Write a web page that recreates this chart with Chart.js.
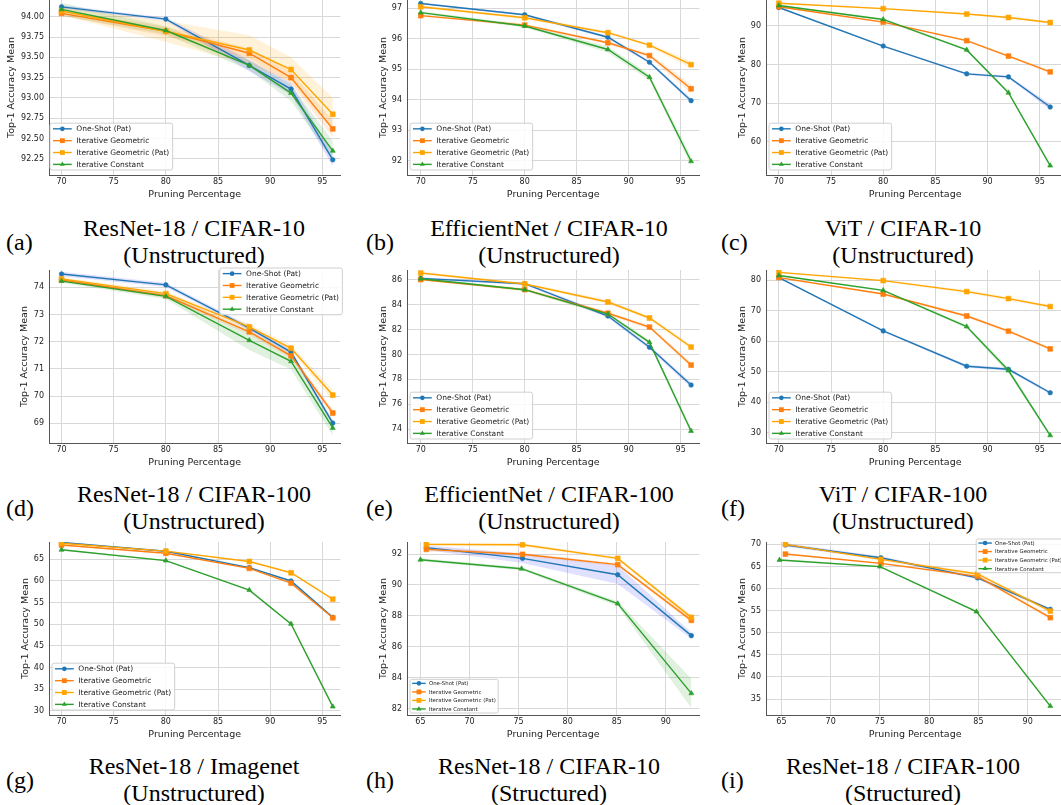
<!DOCTYPE html>
<html><head><meta charset="utf-8">
<script src="https://cdn.jsdelivr.net/npm/chart.js@4"></script>
<style>
html,body{margin:0;padding:0;background:#fff;overflow:hidden;}
#page{position:relative;width:1061px;height:805px;overflow:hidden;background:#fff;}
canvas{position:absolute;}
.cap{position:absolute;font-family:"Liberation Serif","Times New Roman",serif;font-size:24px;line-height:24px;white-space:nowrap;color:#000;transform:translateX(-50%);}
.lab{position:absolute;font-family:"Liberation Serif","Times New Roman",serif;font-size:24px;line-height:24px;white-space:nowrap;color:#000;}
</style></head><body><div id="page"></div>
<script>
// ---------------- DATA ----------------
const seriesLabels = ["One-Shot (Pat)", "Iterative Geometric", "Iterative Geometric (Pat)", "Iterative Constant"];
const xTicksUnstructured = [70, 75, 80, 85, 90, 95];
const xTicksStructured = [65, 70, 75, 80, 85, 90];
const xUnstructured = [70, 80, 88, 92, 96];
const xStructH = [65.6, 75.4, 85.1, 92.6];
const xStructHConst = [65.0, 75.3, 85.1, 92.6];
const xStructI = [65.4, 75.1, 84.9, 92.3];
const xStructIConst = [64.8, 75.0, 84.8, 92.3];

// (a) ResNet-18 / CIFAR-10 (Unstructured)
const meanA = [[94.12, 93.97, 93.40, 93.11, 92.24], [94.04, 93.82, 93.55, 93.25, 92.62], [94.07, 93.82, 93.59, 93.35, 92.80], [94.09, 93.83, 93.40, 93.06, 92.35]];
const stdA  = [[0.02, 0.02, 0.07, 0.07, 0.08], [0.03, 0.06, 0.06, 0.08, 0.10], [0.05, 0.13, 0.18, 0.15, 0.20], [0.08, 0.05, 0.06, 0.10, 0.12]];
const yTicksA = [92.25, 92.5, 92.75, 93.0, 93.25, 93.5, 93.75, 94.0];
// (b) EfficientNet / CIFAR-10
const meanB = [[97.16, 96.79, 96.05, 95.23, 93.97], [96.76, 96.45, 95.87, 95.45, 94.36], [97.05, 96.69, 96.20, 95.79, 95.15], [96.86, 96.42, 95.65, 94.74, 91.98]];
const stdB  = [[0.03, 0.03, 0.05, 0.05, 0.07], [0.03, 0.05, 0.05, 0.07, 0.15], [0.05, 0.05, 0.05, 0.05, 0.12], [0.05, 0.05, 0.10, 0.10, 0.15]];
const yTicksB = [92, 93, 94, 95, 96, 97];
// (c) ViT / CIFAR-10
const meanC = [[94.8, 84.8, 77.6, 76.8, 69.0], [95.0, 91.0, 86.2, 82.2, 78.1], [95.9, 94.5, 93.1, 92.2, 90.9], [95.3, 91.7, 83.8, 72.7, 53.8]];
const stdC  = [[0.2, 0.2, 0.3, 0.3, 0.8], [0.2, 0.2, 0.3, 0.3, 0.4], [0.2, 0.2, 0.2, 0.3, 0.3], [0.3, 0.3, 0.3, 0.3, 0.4]];
const yTicksC = [60, 70, 80, 90];
// (d) ResNet-18 / CIFAR-100
const meanD = [[74.49, 74.09, 72.50, 71.62, 69.01], [74.27, 73.69, 72.36, 71.48, 69.38], [74.31, 73.77, 72.55, 71.76, 70.04], [74.23, 73.67, 72.05, 71.28, 68.83]];
const stdD  = [[0.08, 0.08, 0.08, 0.08, 0.10], [0.06, 0.08, 0.10, 0.10, 0.15], [0.06, 0.08, 0.10, 0.12, 0.20], [0.06, 0.10, 0.35, 0.30, 0.28]];
const yTicksD = [69, 70, 71, 72, 73, 74];
// (e) EfficientNet / CIFAR-100
const meanE = [[86.13, 85.70, 83.10, 80.58, 77.54], [86.03, 85.22, 83.32, 82.21, 79.15], [86.56, 85.68, 84.23, 82.94, 80.60], [86.10, 85.22, 83.26, 80.98, 73.84]];
const stdE  = [[0.10, 0.10, 0.15, 0.15, 0.20], [0.10, 0.10, 0.15, 0.15, 0.20], [0.10, 0.10, 0.15, 0.15, 0.20], [0.10, 0.10, 0.15, 0.15, 0.25]];
const yTicksE = [74, 76, 78, 80, 82, 84, 86];
// (f) ViT / CIFAR-100
const meanF = [[80.9, 63.4, 51.8, 50.8, 43.1], [80.9, 75.5, 68.3, 63.3, 57.5], [82.6, 79.9, 76.3, 74.0, 71.4], [81.6, 76.7, 64.8, 50.4, 29.1]];
const stdF  = [[0.3, 0.3, 0.5, 0.5, 0.5], [0.3, 0.3, 0.5, 0.5, 0.5], [0.3, 0.3, 0.5, 0.5, 0.5], [0.3, 0.3, 0.5, 1.0, 0.5]];
const yTicksF = [30, 40, 50, 60, 70, 80];
// (g) ResNet-18 / Imagenet
const meanG = [[68.9, 66.85, 63.1, 60.0, 51.6], [68.3, 66.4, 62.9, 59.5, 51.5], [68.7, 66.9, 64.5, 61.9, 55.8], [67.2, 64.7, 57.9, 50.1, 31.0]];
const stdG  = [[0.15, 0.15, 0.15, 0.15, 0.15], [0.15, 0.15, 0.15, 0.15, 0.15], [0.15, 0.15, 0.15, 0.15, 0.15], [0.15, 0.15, 0.15, 0.15, 0.15]];
const yTicksG = [30, 35, 40, 45, 50, 55, 60, 65];
// (h) ResNet-18 / CIFAR-10 (Structured)
const meanH = [[92.41, 91.72, 90.66, 86.72], [92.30, 91.98, 91.31, 87.71], [92.62, 92.60, 91.72, 87.90], [91.63, 91.05, 88.79, 82.99]];
const stdH  = [[0.15, 0.30, 0.60, 0.20], [0.12, 0.10, 0.10, 0.15], [0.10, 0.10, 0.10, 0.15], [0.10, 0.10, 0.15, 0.95]];
const yTicksH = [82, 84, 86, 88, 90, 92];
// (i) ResNet-18 / CIFAR-100 (Structured)
const meanI = [[69.85, 66.98, 62.4, 55.3], [67.8, 65.7, 62.76, 53.4], [70.0, 66.6, 63.3, 54.9], [66.46, 64.95, 54.77, 33.4]];
const stdI  = [[0.4, 0.3, 0.3, 0.3], [0.2, 0.2, 0.3, 0.4], [0.3, 0.3, 0.4, 0.5], [0.2, 0.2, 0.2, 0.3]];
const yTicksI = [35, 40, 45, 50, 55, 60, 65, 70];

const captionLetters = ["(a)", "(b)", "(c)", "(d)", "(e)", "(f)", "(g)", "(h)", "(i)"];
const captionTitles = ["ResNet-18 / CIFAR-10", "EfficientNet / CIFAR-10", "ViT / CIFAR-10", "ResNet-18 / CIFAR-100", "EfficientNet / CIFAR-100", "ViT / CIFAR-100", "ResNet-18 / Imagenet", "ResNet-18 / CIFAR-10", "ResNet-18 / CIFAR-100"];
const captionSubs = ["(Unstructured)", "(Unstructured)", "(Unstructured)", "(Unstructured)", "(Unstructured)", "(Unstructured)", "(Unstructured)", "(Structured)", "(Structured)"];

// ---------------- STYLE ----------------
const colors = ["#1f77b4", "#ff7f0e", "#ffa500", "#2ca02c"];
const bandColors = ["rgba(0,0,255,0.12)", "rgba(255,127,14,0.15)", "rgba(255,165,0,0.15)", "rgba(44,160,44,0.15)"];
const pStyles = ["circle", "rect", "rect", "triangle"];
const pRadii = [2.3, 3.4, 3.4, 2.9];
Chart.defaults.font.family = '"DejaVu Sans", sans-serif';

const mplLegend = {
  id: 'mplLegend',
  afterDraw(chart, args, o) {
    if (!o || !o.fs) return;
    const ctx = chart.ctx, ca = chart.chartArea, fs = o.fs;
    const items = chart.data.datasets.filter(d => d.isMain);
    ctx.save();
    ctx.font = fs + 'px "DejaVu Sans"';
    const tw = Math.max(...items.map(d => ctx.measureText(d.label).width));
    const rowH = 1.58 * fs;
    const w = 3.5 * fs + tw + 0.45 * fs;
    const h = 1.5 * fs + (items.length - 1) * rowH;
    let x, y;
    if (o.corner === 'll') { x = ca.left + o.dx; y = ca.bottom - o.dy - h; }
    else { x = ca.right - o.dx - w; y = ca.top + o.dy; }
    const r = 0.3 * fs;
    ctx.beginPath();
    ctx.moveTo(x + r, y); ctx.lineTo(x + w - r, y); ctx.arcTo(x + w, y, x + w, y + r, r);
    ctx.lineTo(x + w, y + h - r); ctx.arcTo(x + w, y + h, x + w - r, y + h, r);
    ctx.lineTo(x + r, y + h); ctx.arcTo(x, y + h, x, y + h - r, r);
    ctx.lineTo(x, y + r); ctx.arcTo(x, y, x + r, y, r); ctx.closePath();
    ctx.fillStyle = 'rgba(255,255,255,0.85)'; ctx.fill();
    ctx.strokeStyle = '#cfcfcf'; ctx.lineWidth = 1; ctx.stroke();
    items.forEach((d, i) => {
      const cy = y + 0.75 * fs + i * rowH;
      const x1 = x + 0.4 * fs, x2 = x + 2.9 * fs, cx = (x1 + x2) / 2;
      ctx.strokeStyle = d.borderColor; ctx.lineWidth = d.borderWidth;
      ctx.beginPath(); ctx.moveTo(x1, cy); ctx.lineTo(x2, cy); ctx.stroke();
      ctx.fillStyle = d.backgroundColor;
      const rad = d.pointRadius;
      ctx.beginPath();
      if (d.pointStyle === 'circle') ctx.arc(cx, cy, rad, 0, Math.PI * 2);
      else if (d.pointStyle === 'rect') { const s = rad * Math.SQRT1_2; ctx.rect(cx - s, cy - s, 2 * s, 2 * s); }
      else { ctx.moveTo(cx, cy - rad); ctx.lineTo(cx + rad * 0.866, cy + rad * 0.5); ctx.lineTo(cx - rad * 0.866, cy + rad * 0.5); ctx.closePath(); }
      ctx.fill();
      ctx.fillStyle = '#222'; ctx.textBaseline = 'middle'; ctx.textAlign = 'left';
      ctx.fillText(d.label, x + 3.5 * fs, cy + 0.5);
    });
    ctx.restore();
  }
};

// ---------------- LAYOUT ----------------
const rowTop = [0, 270, 542];
const rowPlotH = [175, 173, 173];
const colAxisX = [49, 407, 766];
const colPlotRight = [345, 704, 1069];
const captionLine1Y = [228, 494, 766];
const captionCenterX = [194, 549, 903];
const captionLetterX = [6, 366, 721];
const PAD_TOP = 5;

const panels = [
  {m: meanA, s: stdA, xs: [xUnstructured, xUnstructured, xUnstructured, xUnstructured], yt: yTicksA, xt: xTicksUnstructured, xr: [68.8, 96.73], yr: [92.053, 94.205], ylab: 12, dec: 2, leg: {corner: 'll', dx: 1, dy: 5, fs: 7.5}},
  {m: meanB, s: stdB, xs: [xUnstructured, xUnstructured, xUnstructured, xUnstructured], yt: yTicksB, xt: xTicksUnstructured, xr: [68.68, 96.8], yr: [91.53, 97.273], ylab: 384, dec: 0, leg: {corner: 'll', dx: 3, dy: 5, fs: 7.5}},
  {m: meanC, s: stdC, xs: [xUnstructured, xUnstructured, xUnstructured, xUnstructured], yt: yTicksC, xt: xTicksUnstructured, xr: [68.77, 97.36], yr: [51.37, 96.74], ylab: 743, dec: 0, leg: {corner: 'll', dx: 3, dy: 5, fs: 7.5}},
  {m: meanD, s: stdD, xs: [xUnstructured, xUnstructured, xUnstructured, xUnstructured], yt: yTicksD, xt: xTicksUnstructured, xr: [68.8, 96.73], yr: [68.277, 74.637], ylab: 25, dec: 0, leg: {corner: 'ur', dx: -2, dy: -2, fs: 7.5}},
  {m: meanE, s: stdE, xs: [xUnstructured, xUnstructured, xUnstructured, xUnstructured], yt: yTicksE, xt: xTicksUnstructured, xr: [68.68, 96.8], yr: [72.873, 86.805], ylab: 384, dec: 0, leg: {corner: 'll', dx: 3, dy: 4, fs: 7.5}},
  {m: meanF, s: stdF, xs: [xUnstructured, xUnstructured, xUnstructured, xUnstructured], yt: yTicksF, xt: xTicksUnstructured, xr: [68.77, 97.36], yr: [26.61, 83.39], ylab: 743, dec: 0, leg: {corner: 'll', dx: 3, dy: 4, fs: 7.5}},
  {m: meanG, s: stdG, xs: [xUnstructured, xUnstructured, xUnstructured, xUnstructured], yt: yTicksG, xt: xTicksUnstructured, xr: [68.8, 96.73], yr: [29.07, 69.0], ylab: 26, dec: 0, leg: {corner: 'll', dx: 3, dy: 5, fs: 7.5}},
  {m: meanH, s: stdH, xs: [xStructH, xStructH, xStructH, xStructHConst], yt: yTicksH, xt: xTicksStructured, xr: [63.63, 93.42], yr: [81.59, 92.776], ylab: 384, dec: 0, leg: {corner: 'll', dx: 3, dy: 2, fs: 5.4}},
  {m: meanI, s: stdI, xs: [xStructI, xStructI, xStructI, xStructIConst], yt: yTicksI, xt: xTicksStructured, xr: [63.43, 93.73], yr: [31.39, 70.53], ylab: 743, dec: 0, leg: {corner: 'ur', dx: 0, dy: -3, fs: 5.4}}
];

const page = document.getElementById('page');
const XAXIS_H = 25;

panels.forEach((p, k) => {
  const row = Math.floor(k / 3), col = k % 3;
  const left = Math.round(p.ylab - 5.7);
  const axisX = colAxisX[col];
  const W = axisX - left;
  const width = colPlotRight[col] - left;
  const height = rowPlotH[row] + XAXIS_H + PAD_TOP;
  const cv = document.createElement('canvas');
  cv.width = width; cv.height = height;
  cv.style.left = left + 'px'; cv.style.top = (rowTop[row] - PAD_TOP) + 'px';
  cv.style.width = width + 'px'; cv.style.height = height + 'px';
  page.appendChild(cv);

  const datasets = [];
  p.m.forEach((mean, s) => {
    const xs = p.xs[s], sd = p.s[s];
    datasets.push({label: '_band', isMain: false, data: xs.map((x, i) => ({x: x, y: mean[i] + sd[i]})),
      fill: '+1', backgroundColor: bandColors[s], borderWidth: 0, pointRadius: 0, order: 20 + s, tension: 0});
    datasets.push({label: '_band', isMain: false, data: xs.map((x, i) => ({x: x, y: mean[i] - sd[i]})),
      fill: false, backgroundColor: 'rgba(0,0,0,0)', borderWidth: 0, pointRadius: 0, order: 20 + s, tension: 0});
  });
  p.m.forEach((mean, s) => {
    const xs = p.xs[s];
    datasets.push({label: seriesLabels[s], isMain: true, data: xs.map((x, i) => ({x: x, y: mean[i]})),
      borderColor: colors[s], backgroundColor: colors[s], borderWidth: 1.4,
      pointStyle: pStyles[s], pointRadius: pRadii[s], pointBorderWidth: 0.6, pointBorderColor: colors[s], pointBackgroundColor: colors[s],
      fill: false, order: 4 - s, tension: 0});
  });

  new Chart(cv, {
    type: 'line',
    data: {datasets: datasets},
    plugins: [mplLegend],
    options: {
      responsive: false, animation: false, devicePixelRatio: 1, events: [],
      layout: {padding: {top: PAD_TOP, left: 0, right: 0, bottom: 0}},
      plugins: {legend: {display: false}, tooltip: {enabled: false}, mplLegend: p.leg},
      scales: {
        x: {
          type: 'linear', min: p.xr[0], max: p.xr[1],
          afterBuildTicks: sc => { sc.ticks = p.xt.map(v => ({value: v})); },
          afterFit: sc => { sc.height = XAXIS_H; sc.paddingLeft = 0; sc.paddingRight = 0; },
          ticks: {font: {size: 8}, color: '#222', padding: 2, maxRotation: 0, autoSkip: false, callback: v => String(v)},
          grid: {color: '#d8d8d8', lineWidth: 1, drawTicks: false},
          border: {display: true, color: '#555', width: 1},
          title: {display: true, text: 'Pruning Percentage', font: {size: 9.5}, color: '#222', padding: 0}
        },
        y: {
          type: 'linear', min: p.yr[0], max: p.yr[1],
          afterBuildTicks: sc => { sc.ticks = p.yt.map(v => ({value: v})); },
          afterFit: sc => { sc.width = W; sc.paddingTop = 0; sc.paddingBottom = 0; },
          ticks: {font: {size: 8}, color: '#222', padding: 5, autoSkip: false, callback: v => v.toFixed(p.dec)},
          grid: {color: '#d8d8d8', lineWidth: 1, drawTicks: false},
          border: {display: true, color: '#555', width: 1},
          title: {display: true, text: 'Top-1 Accuracy Mean', font: {size: 9.5}, color: '#222', padding: 0}
        }
      }
    }
  });

  // captions
  const y1 = captionLine1Y[row];
  const t = document.createElement('div'); t.className = 'cap';
  t.style.left = captionCenterX[col] + 'px'; t.style.top = (y1 - 12) + 'px'; t.textContent = captionTitles[k];
  page.appendChild(t);
  const s2 = document.createElement('div'); s2.className = 'cap';
  s2.style.left = captionCenterX[col] + 'px'; s2.style.top = (y1 + 27 - 12) + 'px'; s2.textContent = captionSubs[k];
  page.appendChild(s2);
  const l = document.createElement('div'); l.className = 'lab';
  l.style.left = captionLetterX[col] + 'px'; l.style.top = (y1 + 13.5 - 12) + 'px'; l.textContent = captionLetters[k];
  page.appendChild(l);
});
</script>
</body></html>
